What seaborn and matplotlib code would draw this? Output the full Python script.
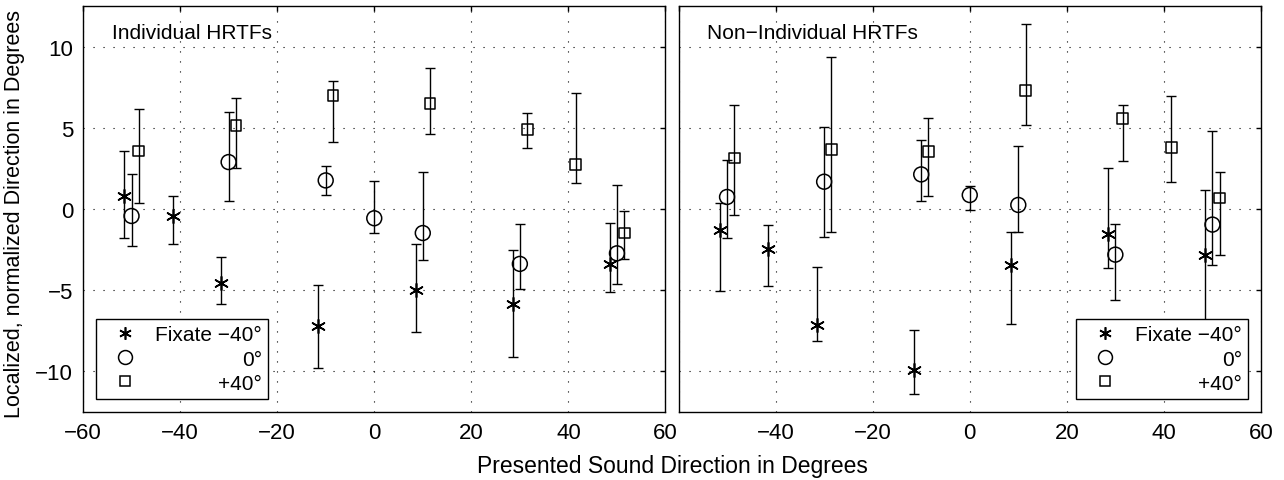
import numpy as np
import pandas as pd
import matplotlib
matplotlib.use("Agg")
import matplotlib.pyplot as plt
import seaborn as sns
from matplotlib.lines import Line2D

# Fixation conditions and presented directions (degrees)
fixations = ["Fixate −40°", "0°", "+40°"]
dir_m40 = [-50, -40, -30, -10, 10, 30, 50]
dir_0 = [-50, -30, -10, 0, 10, 30, 50]
dir_p40 = [-50, -30, -10, 10, 30, 40, 50]

# Individual HRTFs: mean, lower and upper end of the error bars
ind_m40_mean = [0.8, -0.43, -4.53, -7.19, -5.0, -5.88, -3.4]
ind_m40_lo = [-1.78, -2.13, -5.86, -9.8, -7.58, -9.14, -5.14]
ind_m40_hi = [3.57, 0.8, -2.95, -4.69, -2.17, -2.5, -0.86]

ind_0_mean = [-0.43, 2.89, 1.76, -0.57, -1.48, -3.38, -2.73]
ind_0_lo = [-2.27, 0.49, 0.84, -1.45, -3.16, -4.94, -4.61]
ind_0_hi = [2.17, 5.96, 2.66, 1.70, 2.27, -0.9, 1.45]

ind_p40_mean = [3.57, 5.14, 6.99, 6.48, 4.9, 2.75, -1.48]
ind_p40_lo = [0.35, 2.54, 4.12, 4.61, 3.75, 1.58, -3.07]
ind_p40_hi = [6.17, 6.84, 7.87, 8.71, 5.9, 7.15, -0.14]

# Non-individual HRTFs
non_m40_mean = [-1.31, -2.44, -7.16, -9.91, -3.43, -1.52, -2.85]
non_m40_lo = [-5.03, -4.72, -8.14, -11.4, -7.1, -3.63, -8.5]
non_m40_hi = [0.39, -0.98, -3.55, -7.47, -1.44, 2.52, 1.17]

non_0_mean = [0.74, 1.68, 2.13, 0.86, 0.25, -2.81, -0.96]
non_0_lo = [-1.78, -1.72, 0.47, -0.06, -1.39, -5.58, -3.43]
non_0_hi = [3.02, 5.05, 4.27, 1.39, 3.9, -0.9, 4.8]

non_p40_mean = [3.14, 3.67, 3.53, 7.32, 5.58, 3.79, 0.68]
non_p40_lo = [-0.35, -1.39, 0.8, 5.17, 2.95, 1.64, -2.85]
non_p40_hi = [6.42, 9.39, 5.62, 11.38, 6.4, 6.95, 2.28]

panels = ["Individual HRTFs", "Non−Individual HRTFs"]

rows = []
series = [
    (panels[0], fixations[0], dir_m40, ind_m40_mean, ind_m40_lo, ind_m40_hi),
    (panels[0], fixations[1], dir_0, ind_0_mean, ind_0_lo, ind_0_hi),
    (panels[0], fixations[2], dir_p40, ind_p40_mean, ind_p40_lo, ind_p40_hi),
    (panels[1], fixations[0], dir_m40, non_m40_mean, non_m40_lo, non_m40_hi),
    (panels[1], fixations[1], dir_0, non_0_mean, non_0_lo, non_0_hi),
    (panels[1], fixations[2], dir_p40, non_p40_mean, non_p40_lo, non_p40_hi),
]
for panel, fix, d, m, lo, hi in series:
    for a, b, c, e in zip(d, m, lo, hi):
        rows.append({"panel": panel, "fixation": fix, "direction": a,
                     "mean": b, "lo": c, "hi": e})
df = pd.DataFrame(rows)

# marker style and small horizontal dodge per fixation
styles = {
    fixations[0]: dict(marker=(6, 2, 0), s=95, color="black", linewidth=1.2, dodge=-1.5),
    fixations[1]: dict(marker="o", s=115, facecolor="none", edgecolor="black", linewidth=1.1, dodge=0.0),
    fixations[2]: dict(marker="s", s=60, facecolor="none", edgecolor="black", linewidth=1.1, dodge=1.5),
}

sns.set_theme(style="white")
plt.rcParams["font.family"] = ["Liberation Sans", "DejaVu Sans"]
plt.rcParams["text.color"] = "black"
plt.rcParams["axes.labelcolor"] = "black"
plt.rcParams["xtick.color"] = "black"
plt.rcParams["ytick.color"] = "black"
plt.rcParams["axes.edgecolor"] = "black"
plt.rcParams["axes.linewidth"] = 1.0

fig, axes = plt.subplots(1, 2, figsize=(12.84, 4.81), dpi=100)
fig.subplots_adjust(left=83 / 1284, right=1261 / 1284, bottom=68 / 481,
                    top=474 / 481, wspace=13 / 582)

xticks = [-60, -40, -20, 0, 20, 40, 60]
yticks = [-10, -5, 0, 5, 10]


def fmt(v):
    return str(v).replace("-", "−")


legends = []
for i, (ax, panel) in enumerate(zip(axes, panels)):
    for fix in fixations:
        st = dict(styles[fix])
        dodge = st.pop("dodge")
        sub = df[(df["panel"] == panel) & (df["fixation"] == fix)]
        x = sub["direction"] + dodge
        ax.errorbar(x, sub["mean"],
                    yerr=[sub["mean"] - sub["lo"], sub["hi"] - sub["mean"]],
                    fmt="none", ecolor="black", elinewidth=1.0,
                    capsize=3.3, capthick=1.0, zorder=2)
        sns.scatterplot(x=x.values, y=sub["mean"].values, ax=ax, legend=False,
                        zorder=3, **st)

    ax.set_xlim(-60, 60)
    ax.set_ylim(-12.5, 12.5)
    xl = [fmt(t) for t in xticks]
    if i == 1:
        xl[0] = ""
    ax.set_xticks(xticks, labels=xl)
    ax.set_yticks(yticks, labels=[fmt(t) for t in yticks] if i == 0 else [""] * 5)
    ax.tick_params(direction="in", top=True, right=True, length=3.6, width=1.0,
                   labelsize=16, pad=7, colors="black")
    ax.grid(True, color="black", linestyle=(0, (1, 8)), linewidth=0.8)
    ax.set_axisbelow(True)
    for sp in ax.spines.values():
        sp.set_visible(True)
        sp.set_color("black")
        sp.set_linewidth(1.0)
    ax.set_xlabel("")
    ax.set_ylabel("")
    ax.text(0.049, 0.958, panel, transform=ax.transAxes, ha="left", va="top",
            fontsize=15, color="black")

    handles = [
        Line2D([], [], linestyle="none", marker=(6, 2, 0), markersize=9,
               color="black", markeredgewidth=1.2),
        Line2D([], [], linestyle="none", marker="o", markersize=10,
               markerfacecolor="none", markeredgecolor="black", markeredgewidth=1.1),
        Line2D([], [], linestyle="none", marker="s", markersize=7.2,
               markerfacecolor="none", markeredgecolor="black", markeredgewidth=1.1),
    ]
    if i == 0:
        loc, anchor = "lower left", (13 / 582, 13 / 406)
    else:
        loc, anchor = "lower right", (570 / 583, 13 / 406)
    leg = ax.legend(handles, fixations, loc=loc, bbox_to_anchor=anchor,
                    borderaxespad=0, fontsize=15, frameon=True, fancybox=False,
                    framealpha=1, edgecolor="black", borderpad=0.3,
                    handlelength=2.19, handletextpad=0.35, labelspacing=0.25)
    leg.get_frame().set_linewidth(1.0)
    legends.append(leg)

fig.text(672 / 1284, 1 - 466 / 481, "Presented Sound Direction in Degrees",
         ha="center", va="center", fontsize=16.5)
fig.text(15 / 1284, 1 - 214 / 481, "Localized, normalized Direction in Degrees",
         ha="center", va="center", rotation=90, fontsize=15.5)

# right-align legend labels (MATLAB style)
fig.canvas.draw()
for leg in legends:
    texts = leg.get_texts()
    widths = [t.get_window_extent().width for t in texts]
    wmax = max(widths)
    for t, w in zip(texts, widths):
        t.set_ha("right")
        t.set_position((wmax - w, 0))

fig.savefig("out.png", dpi=100)
